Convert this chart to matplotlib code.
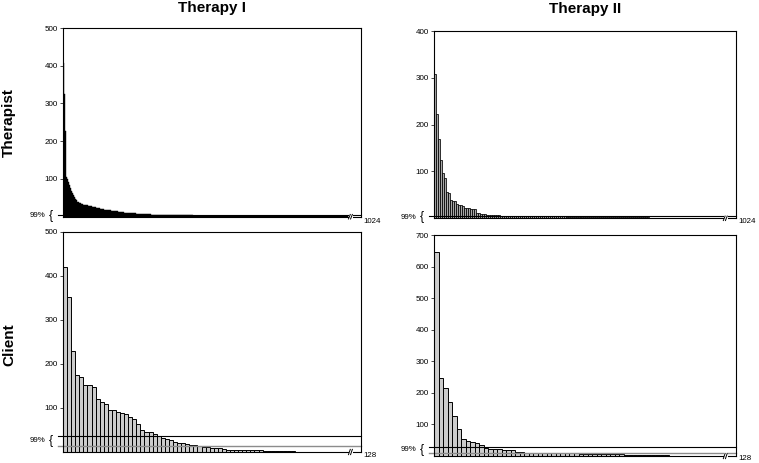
import matplotlib
matplotlib.use('Agg')
import matplotlib.pyplot as plt
import numpy as np
from matplotlib.transforms import blended_transform_factory, offset_copy

plt.rcParams['font.family'] = ['Liberation Sans', 'DejaVu Sans']

col_titles = ['Therapy I', 'Therapy II']
row_titles = ['Therapist', 'Client']

therapist_t1 = [
    406, 324, 227, 106, 100, 92, 84, 75, 68, 62, 57, 53, 48, 44, 40,
    38, 36, 35, 34, 33, 32, 31, 31, 30, 30,
    29, 29, 28, 28, 27, 26, 26, 25, 24, 23, 23, 22,
    21, 21, 20, 20, 19, 19, 18, 18, 17, 17, 17, 16, 16,
    15, 15, 14, 14, 14, 13, 13, 13, 12, 12, 12, 11, 11, 11, 10, 10, 10, 10, 9, 9,
    9, 8.5, 8.5, 8, 8, 8, 7.5, 7.5, 7, 7, 7, 6.5, 6.5, 6.5, 6, 6, 6, 6,
    5.5, 5.5, 5.5, 5.5, 5, 5, 5, 5, 5, 5, 4.5, 4.5, 4.5, 4.5, 4.5, 4.5,
    4, 4, 4, 4, 4, 4, 4, 4, 4, 4,
    3.5, 3.5, 3.5, 3.5, 3.5, 3.5, 3.5, 3.5, 3.5, 3.5, 3.5, 3.5, 3.5, 3.5, 3.5, 3.5,
    3, 3, 3, 3, 3, 3, 3, 3, 3, 3, 3, 3, 3, 3, 3, 3, 3, 3, 3, 3,
    2.5, 2.5, 2.5, 2.5, 2.5, 2.5, 2.5, 2.5, 2.5, 2.5, 2.5, 2.5, 2.5,
    2.5, 2.5, 2.5, 2.5, 2.5, 2.5, 2.5, 2.5, 2.5, 2.5, 2.5, 2.5,
    2, 2, 2, 2, 2, 2, 2, 2, 2, 2, 2, 2, 2, 2, 2, 2, 2, 2, 2, 2, 2, 2, 2, 2, 2,
    1.5, 1.5, 1.5, 1.5, 1.5, 1.5, 1.5, 1.5, 1.5, 1.5, 1.5, 1.5, 1.5, 1.5, 1.5, 1.5, 1.5, 1.5, 1.5, 1.5,
    1.5, 1.5, 1.5, 1.5, 1.5, 1.5, 1.5, 1.5, 1.5, 1.5, 1.5, 1.5, 1.5, 1.5, 1.5, 1.5, 1.5, 1.5, 1.5, 1.5,
    1, 1, 1, 1, 1, 1, 1, 1, 1, 1, 1, 1, 1, 1, 1, 1, 1, 1, 1, 1, 1, 1, 1,
    1, 1, 1, 1, 1, 1, 1, 1, 1, 1, 1, 1, 1, 1, 1, 1, 1, 1, 1, 1, 1, 1,
]

therapist_t2 = [
    309, 223, 169, 125, 96, 86, 56, 53, 39, 38, 36, 31, 28.5, 28, 26, 23, 21, 21, 20.5, 20, 19,
    11, 10.5, 10, 10, 9.5,
    8, 7.5, 7.5, 7, 7, 6.5, 6.5,
    5.5, 5.5, 5, 5, 5, 5, 5, 5, 4.5, 4.5, 4.5, 4.5,
    4, 4, 4, 4, 4, 4, 4, 4, 4, 4, 4, 4, 4, 4, 4, 4, 4, 4, 4, 4, 4,
    3, 3, 3, 3, 3, 3, 3, 3, 3, 3, 3, 3, 3, 3, 3, 3, 3, 3, 3, 3,
    2.5, 2.5, 2.5, 2.5, 2.5, 2.5, 2.5, 2.5, 2.5, 2.5, 2.5, 2.5, 2.5, 2.5, 2.5, 2.5, 2.5, 2.5, 2.5, 2.5, 2.5, 2.5,
    1.5, 1.5, 1.5, 1.5, 1.5, 1.5, 1.5, 1.5, 1.5, 1.5, 1.5, 1.5, 1.5, 1.5, 1.5, 1.5, 1.5, 1.5, 1.5,
    1.5, 1.5, 1.5, 1.5, 1.5, 1.5, 1.5, 1.5, 1.5, 1.5, 1.5, 1.5, 1.5, 1.5, 1.5, 1.5, 1.5, 1.5,
]

client_t1 = [
    420, 353, 230, 175, 170, 153, 153, 148, 121, 114, 108, 95, 95, 92, 89, 86, 79, 74, 63, 49, 46, 46, 42, 36,
    32, 29.5, 27, 23, 21, 20, 19, 17, 15, 13.6, 12, 10.6, 10, 8, 8, 6, 5.5, 4.5,
    4, 4, 4, 4, 4, 3.5, 3.5, 3, 3, 3, 3, 3, 2.5, 2.5, 2,
    1, 1, 1, 1, 1, 1, 1, 1, 1, 1, 1, 1, 1,
]

client_t2 = [
    647, 248, 216, 172, 127, 86, 54, 48, 45, 40, 35, 26, 23, 21, 21, 19, 19, 19, 13, 12, 11,
    9, 9, 8.5, 8.5, 8.5, 8.5, 8.5, 8, 8, 8, 8,
    5, 5, 5, 5, 5, 5, 5, 5, 5, 5,
    3, 3, 3, 3, 3, 3, 3, 3, 3, 3,
    1.5, 1.5, 1.5, 1.5, 1.5, 1.5, 1.5, 1.5, 1.5, 1.5, 1.5, 1.5,
]

y_max = [[500, 400], [500, 700]]
last_labels = ['1024', '128']
pct_label = '99%'
upper_lines = [[4.5, 4], [37, 27.5]]      # black 99% lines
lower_lines = [[None, None], [13.6, 11]]  # grey lines

series = [[therapist_t1, therapist_t2], [client_t1, client_t2]]

W, H = 759, 463
fig = plt.figure(figsize=(W / 100, H / 100), dpi=100)

boxes = [
    [(63, 28, 361, 216.7), (434, 31, 736, 218.3)],
    [(63, 232, 361, 452), (434, 235, 736, 456)],
]
last_offsets = [[-3.6, -2.6], [-2.4, -1.6]]

break_frac = 0.957

for r in range(2):
    for c in range(2):
        x0, y0, x1, y1 = boxes[r][c]
        ax = fig.add_axes([x0 / W, 1 - y1 / H, (x1 - x0) / W, (y1 - y0) / H])
        vals = series[r][c]
        n = len(vals)
        xs = np.arange(n)
        if r == 0 and c == 0:
            ax.bar(xs, vals, width=1.0, align='edge', color='black',
                   edgecolor='black', linewidth=0.3)
        elif r == 0:
            ax.bar(xs, vals, width=1.0, align='edge', color='#a8a8a8',
                   edgecolor='black', linewidth=0.55)
        else:
            ax.bar(xs, vals, width=1.0, align='edge', color='#cccccc',
                   edgecolor='black', linewidth=0.7)
        ax.set_xlim(0, n / break_frac)
        ax.set_ylim(0, y_max[r][c])
        ax.set_yticks(np.arange(100, y_max[r][c] + 1, 100))
        ax.set_xticks([])
        ax.tick_params(axis='y', length=2, width=0.5, pad=1.5, labelsize=5.8,
                       colors='black')
        for sp in ax.spines.values():
            sp.set_linewidth(0.8)
            sp.set_color('black')

        trans = blended_transform_factory(ax.transAxes, ax.transData)
        ul = upper_lines[r][c]
        ax.plot([-0.017, 1.0], [ul, ul], color='black', lw=0.8,
                transform=trans, clip_on=False)
        ll = lower_lines[r][c]
        if ll is not None:
            ax.plot([-0.017, 1.0], [ll, ll], color='#8c8c8c', lw=1.0,
                    transform=trans, clip_on=False)
            mid = (ul + ll) / 2
        else:
            mid = ul / 2

        # 99% bracket label
        t_brace = offset_copy(trans, fig=fig, x=-7, y=0, units='points')
        ax.text(0.0, mid, '{', transform=t_brace, ha='right', va='center',
                fontsize=9, color='black')
        t_pct = offset_copy(trans, fig=fig, x=-13, y=0, units='points')
        ax.text(0.0, mid, pct_label, transform=t_pct, ha='right', va='center',
                fontsize=5.7, color='black')

        # axis break mark
        bx = break_frac + 0.004
        ax.add_patch(plt.Rectangle((bx, -0.02), 0.012, 0.04, transform=ax.transAxes,
                                   facecolor='white', edgecolor='none',
                                   clip_on=False, zorder=5))
        hh = 0.012
        for dx in (0.0, 0.007):
            ax.plot([bx + dx - 0.003, bx + dx + 0.003], [-hh, hh],
                    color='black', lw=0.7, transform=ax.transAxes,
                    clip_on=False, zorder=6)

        # last index label
        t_last = offset_copy(ax.transAxes, fig=fig, x=2, y=last_offsets[r][c],
                             units='points')
        ax.text(1.0, 0.0, last_labels[r], transform=t_last, ha='left',
                va='center', fontsize=5.7, color='black')

# column titles
for c, (xc, yc) in enumerate([(212, 8), (585, 9.5)]):
    fig.text(xc / W, 1 - yc / H, col_titles[c], ha='center', va='center',
             fontsize=11, fontweight='bold')

# row titles
for r, yc in enumerate([123, 345]):
    fig.text(9 / W, 1 - yc / H, row_titles[r], rotation=90, ha='center',
             va='center', fontsize=11, fontweight='bold')

fig.savefig('out.png', dpi=100)
